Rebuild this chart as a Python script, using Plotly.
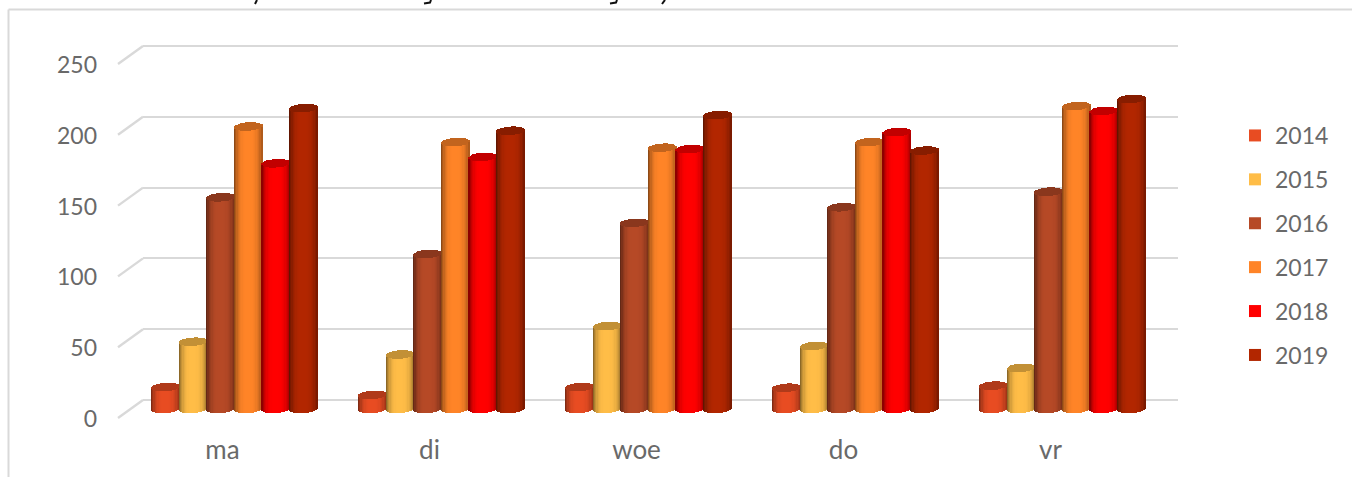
import math
import plotly.graph_objects as go

W, H = 1352, 477

categories = ["ma", "di", "woe", "do", "vr"]
years = ["2014", "2015", "2016", "2017", "2018", "2019"]
values_2014 = [15.5, 10, 15.5, 15, 16.5]
values_2015 = [47.5, 38.5, 58.5, 44.5, 29]
values_2016 = [149.5, 109.5, 131.5, 142.5, 153.5]
values_2017 = [199.5, 188.5, 184.5, 188.5, 214]
values_2018 = [173.5, 178, 183.5, 195.5, 210.5]
values_2019 = [212.5, 196.5, 207.5, 182.5, 219]
colours = ["#E84C22", "#FFBD47", "#B64926", "#FF8427", "#FF0000", "#B22600"]
tick_values = [0, 50, 100, 150, 200, 250]

series = [values_2014, values_2015, values_2016, values_2017, values_2018, values_2019]

# Plot frame in pixels and the value scale of the cylinders
PLOT_L, PLOT_R, PLOT_T, PLOT_B = 143, 1178, 20, 440
PX_PER_UNIT = 1.416
WALL_ZERO_PX, BAR_ZERO_PX = 400, 409
BAND_PX = (PLOT_R - PLOT_L) / len(categories)
STEP = 27.6 / BAND_PX
BAR_W = 28.2 / BAND_PX
CAP_B = 4.2 / PX_PER_UNIT
CAP_SKEW = 0.9 / PX_PER_UNIT
STRIPS = 22


def shade(colour, factor):
    r, g, b = (int(colour[i:i + 2], 16) for i in (1, 3, 5))
    return f"rgb({r * factor:.0f},{g * factor:.0f},{b * factor:.0f})"


def side_light(u):
    # dark rims on a lit front, a little darker on the left
    if u < 0:
        return 1 - 0.52 * abs(u) ** 3.2
    return 1 - 0.36 * u ** 3.2


def cylinder_trace(values, colour, offset_centre, name):
    xs, bases, heights, offsets, fills = [], [], [], [], []
    strip_w = BAR_W / STRIPS
    for part in ("side", "cap"):
        for cat, v in zip(categories, values):
            for k in range(STRIPS):
                u = (k + 0.5) / STRIPS * 2 - 1
                arc = CAP_B * math.sqrt(1 - u * u)
                tilt = CAP_SKEW * u
                if part == "side":
                    lo, hi = tilt - arc, v + tilt - arc
                    fill = shade(colour, side_light(u))
                else:
                    lo, hi = v + tilt - arc, v + tilt + arc
                    fill = shade(colour, 0.76)
                xs.append(cat)
                bases.append(lo)
                heights.append(hi - lo)
                offsets.append(offset_centre - BAR_W / 2 + k * strip_w)
                fills.append(fill)
    return go.Bar(
        x=xs, y=heights, base=bases, offset=offsets, width=strip_w * 1.15,
        marker=dict(color=fills, line=dict(width=0)),
        xaxis="x", yaxis="y2", legendgroup=name, showlegend=False, hoverinfo="skip",
    )


fig = go.Figure()
for i, (name, values, colour) in enumerate(zip(years, series, colours)):
    centre = (i - (len(years) - 1) / 2) * STEP
    fig.add_trace(go.Bar(
        x=categories, y=values, name=name, offset=centre - BAR_W * 0.42, width=BAR_W * 0.84,
        marker=dict(color=colour, line=dict(width=0)),
        xaxis="x", yaxis="y2", legendgroup=name,
    ))
    fig.add_trace(cylinder_trace(values, colour, centre, name))

x_shift = 12 / BAND_PX
wall_range = [(WALL_ZERO_PX - PLOT_B) / PX_PER_UNIT, (WALL_ZERO_PX - PLOT_T) / PX_PER_UNIT]
bar_range = [(BAR_ZERO_PX - PLOT_B) / PX_PER_UNIT, (BAR_ZERO_PX - PLOT_T) / PX_PER_UNIT]

GRID = "#D9D9D9"
TEXT = "#696969"
FONT = "Lato"

# Floor-to-wall connectors running from each gridline towards the value labels
connectors = [
    dict(type="line", xref="paper", yref="y",
         x0=118 / W, x1=PLOT_L / W,
         y0=t - 18 / PX_PER_UNIT, y1=t,
         line=dict(color=GRID, width=2.4), layer="below")
    for t in tick_values
]
frame = [
    dict(type="line", xref="paper", yref="paper", x0=8.5 / W, x1=1, y0=1 - 9.5 / H, y1=1 - 9.5 / H,
         line=dict(color=GRID, width=2)),
    dict(type="line", xref="paper", yref="paper", x0=8.5 / W, x1=8.5 / W, y0=0, y1=1 - 9.5 / H,
         line=dict(color=GRID, width=2)),
]


def ink_stroke(points):
    path = "M " + " L ".join(f"{px / W:.5f},{1 - py / H:.5f}" for px, py in points)
    return dict(type="path", xref="paper", yref="paper", path=path,
                line=dict(color="#111111", width=2))


# Small ink strokes along the top edge, above the frame
top_strokes = [
    ink_stroke([(257, 0), (255, 4)]),
    ink_stroke([(431, 0), (430, 2.5), (424, 3.5)]),
    ink_stroke([(617, 0), (616, 2.5), (610, 3.5)]),
    ink_stroke([(665, 0), (662, 4)]),
]

fig.update_layout(
    width=W, height=H, margin=dict(l=0, r=0, t=0, b=0, pad=0),
    paper_bgcolor="white", plot_bgcolor="white",
    barmode="overlay", bargap=0,
    font=dict(family=FONT, size=23, color=TEXT),
    xaxis=dict(
        domain=[PLOT_L / W, PLOT_R / W], range=[-0.5 + x_shift, len(categories) - 0.5 + x_shift],
        type="category", categoryorder="array", categoryarray=categories,
        showgrid=False, zeroline=False, showline=False, ticks="",
        ticklabelshift=-12, ticklabelstandoff=-8, anchor="y",
        tickfont=dict(family=FONT, size=26, color=TEXT),
    ),
    yaxis=dict(
        domain=[1 - PLOT_B / H, 1 - PLOT_T / H], range=wall_range,
        tickmode="array", tickvals=tick_values,
        showgrid=True, gridcolor=GRID, gridwidth=2.4, zeroline=False, showline=False, ticks="",
        ticklabelshift=19, ticklabelstandoff=45, anchor="x",
    ),
    yaxis2=dict(
        domain=[1 - PLOT_B / H, 1 - PLOT_T / H], range=bar_range,
        overlaying="y", visible=False, anchor="x",
    ),
    legend=dict(
        x=1235 / W, xanchor="left", y=1 - 114 / H, yanchor="top",
        tracegroupgap=11, font=dict(family=FONT, size=23, color=TEXT),
        bgcolor="rgba(0,0,0,0)",
    ),
    shapes=connectors + frame + top_strokes,
)

fig.write_html("out.html")
